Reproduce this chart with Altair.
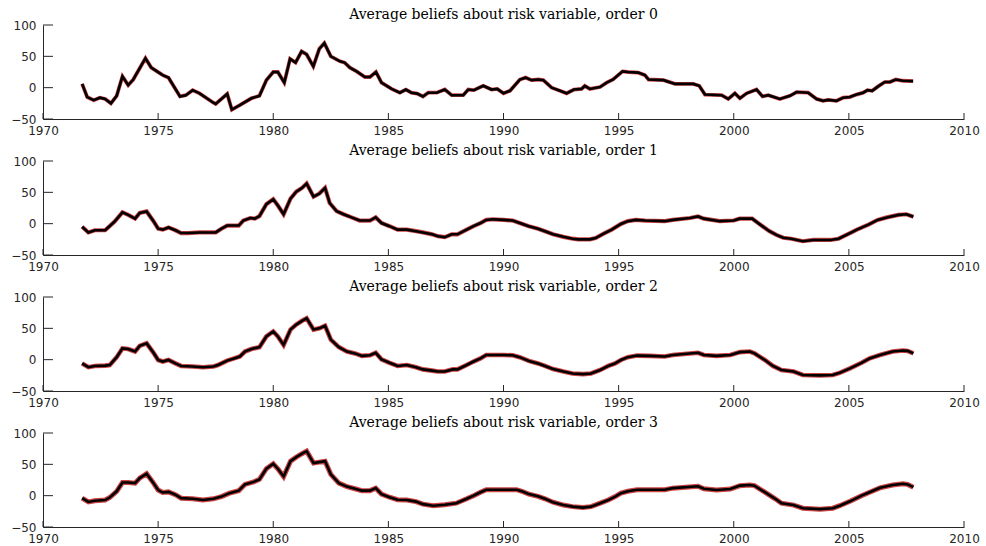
import altair as alt
import pandas as pd

# ---------------- data ----------------
t0 = [1971.7, 1971.92, 1972.2, 1972.47, 1972.7, 1972.95, 1973.2, 1973.45, 1973.7, 1973.92,
      1974.45, 1974.7, 1974.95, 1975.2, 1975.45, 1975.95, 1976.2, 1976.5, 1976.8, 1977.4,
      1977.5, 1978.0, 1978.2, 1978.55, 1979.05, 1979.4, 1979.7, 1980.0, 1980.2, 1980.48,
      1980.73, 1980.97, 1981.23, 1981.45, 1981.74, 1982.0, 1982.22, 1982.5, 1982.9, 1983.1,
      1983.33, 1983.62, 1983.98, 1984.2, 1984.46, 1984.7, 1985.14, 1985.5, 1985.76, 1986.0,
      1986.25, 1986.5, 1986.73, 1987.1, 1987.45, 1987.75, 1988.25, 1988.47, 1988.71, 1989.12,
      1989.48, 1989.73, 1990.0, 1990.28, 1990.71, 1990.96, 1991.22, 1991.51, 1991.73, 1992.09,
      1992.45, 1992.74, 1993.06, 1993.39, 1993.53, 1993.75, 1994.19, 1994.48, 1994.76, 1995.17,
      1995.4, 1995.85, 1996.14, 1996.3, 1996.95, 1997.45, 1998.24, 1998.5, 1998.75, 1999.47,
      1999.76, 2000.05, 2000.27, 2000.56, 2000.99, 2001.25, 2001.5, 2002.0, 2002.44, 2002.73,
      2003.23, 2003.6, 2003.88, 2004.1, 2004.46, 2004.75, 2005.04, 2005.33, 2005.62, 2005.81,
      2006.01, 2006.27, 2006.56, 2006.78, 2007.04, 2007.35, 2007.79]
v0 = [6, -15, -20, -16, -18, -25, -13, 18, 4, 13,
      47, 32, 26, 20, 16, -14, -12, -4, -9, -24,
      -26, -10, -35, -28, -17, -13, 12, 25, 25, 8,
      46, 40, 58, 53, 34, 62, 71, 50, 42, 40,
      32, 26, 17, 17, 25, 8, -2, -8, -3, -8,
      -9.5, -14, -8, -8, -3, -12, -12, -3, -4, 3,
      -3, -2, -9, -5, 13, 16, 12, 13, 12, 0,
      -5, -9, -3, -2, 3, -2, 1, 8, 13, 26,
      25, 24, 20, 13, 12, 6, 6, 3, -11, -12,
      -18, -9, -17, -9, -3, -14, -12, -18, -13, -7,
      -8, -18, -21, -19.5, -21, -16, -15, -11, -8, -4,
      -5, 2, 9, 9, 13, 11, 10.5]

t1 = [1971.7, 1971.97, 1972.25, 1972.7, 1973.1, 1973.45, 1973.7, 1974.0, 1974.2, 1974.5,
      1974.8, 1975.0, 1975.2, 1975.45, 1975.75, 1976.0, 1976.3, 1976.8, 1977.5, 1977.75,
      1978.0, 1978.5, 1978.7, 1979.0, 1979.2, 1979.4, 1979.7, 1980.0, 1980.2, 1980.45,
      1980.75, 1981.0, 1981.25, 1981.45, 1981.75, 1982.0, 1982.25, 1982.45, 1982.75, 1983.05,
      1983.4, 1983.75, 1984.2, 1984.45, 1984.7, 1985.05, 1985.4, 1985.8, 1986.2, 1986.5,
      1986.9, 1987.15, 1987.45, 1987.75, 1988.0, 1988.4, 1988.7, 1989.0, 1989.25, 1989.55,
      1990.0, 1990.4, 1990.7, 1991.1, 1991.5, 1991.8, 1992.15, 1992.6, 1993.0, 1993.25,
      1993.75, 1994.0, 1994.35, 1994.7, 1995.1, 1995.4, 1995.75, 1996.15, 1997.0, 1997.35,
      1998.1, 1998.45, 1998.7, 1999.4, 2000.0, 2000.25, 2000.8, 2001.15, 2001.55, 2001.85,
      2002.15, 2002.5, 2003.0, 2003.45, 2004.2, 2004.55, 2005.05, 2005.35, 2005.85, 2006.25,
      2006.65, 2007.15, 2007.5, 2007.8]
v1 = [-5, -14, -10.5, -10.5, 3, 18, 14, 8, 17, 19.5,
      4, -8, -9.5, -6, -10.5, -15, -15, -14, -14, -8,
      -3, -3, 5, 9, 8, 12, 31, 39, 29, 15,
      40, 51, 57, 64, 43, 48, 57, 33, 20, 15,
      10, 5, 5, 10, 1, -4, -9.5, -9.5, -12, -14,
      -17, -20, -21.5, -17, -17, -9.5, -4, 1, 6, 7,
      6, 5, 1, -4, -8, -12, -17, -21, -24, -25,
      -25, -23, -16, -9.5, -0.5, 4, 6, 5, 4, 6,
      9, 11.5, 8, 4, 5, 8, 8, -1.5, -12, -18,
      -22.5, -24, -28, -26, -26, -24, -15, -9.5, -1.5, 6,
      10, 14, 15, 11]

t2 = [1971.7, 1971.97, 1972.25, 1972.7, 1972.9, 1973.2, 1973.45, 1973.7, 1974.0, 1974.2,
      1974.5, 1974.8, 1975.0, 1975.2, 1975.45, 1975.75, 1976.0, 1976.5, 1976.95, 1977.4,
      1977.6, 1978.0, 1978.3, 1978.55, 1978.77, 1979.05, 1979.4, 1979.7, 1980.0, 1980.2,
      1980.45, 1980.75, 1981.0, 1981.25, 1981.45, 1981.75, 1982.0, 1982.25, 1982.5, 1982.85,
      1983.2, 1983.55, 1983.85, 1984.2, 1984.45, 1984.7, 1985.05, 1985.4, 1985.8, 1986.2,
      1986.5, 1986.9, 1987.15, 1987.45, 1987.8, 1988.0, 1988.4, 1988.7, 1989.0, 1989.25,
      1989.55, 1990.0, 1990.4, 1990.7, 1991.1, 1991.5, 1991.8, 1992.15, 1992.6, 1993.0,
      1993.45, 1993.8, 1994.2, 1994.55, 1994.85, 1995.1, 1995.4, 1995.8, 1996.35, 1997.0,
      1997.35, 1998.45, 1998.7, 1999.25, 1999.85, 2000.27, 2000.7, 2000.9, 2001.35, 2001.7,
      2002.07, 2002.6, 2003.0, 2003.75, 2004.3, 2004.6, 2005.05, 2005.55, 2005.9, 2006.35,
      2006.9, 2007.35, 2007.55, 2007.8]
v2 = [-6, -12, -10, -9.5, -8.5, 4, 18, 17, 13, 22,
      26, 11, -0.5, -3, -0.5, -6, -10, -11, -12, -11,
      -8.5, -1.5, 2, 5, 13, 17, 20, 37, 45, 37,
      23.5, 48, 56, 62, 66, 48, 50, 54, 32, 20,
      13, 10, 6, 7, 11, 0.5, -5, -10, -8.5, -12,
      -15.5, -17.5, -19, -19, -15.5, -15.5, -8.5, -3, 2, 7.5,
      7.5, 7.5, 7, 4, -2, -6, -10, -15, -19, -22,
      -23, -22, -16.5, -10, -6, -0.5, 4, 6.5, 6, 5,
      7.5, 11, 7.5, 6, 7.5, 12, 13, 10, -0.5, -10,
      -16.5, -19, -24.5, -25, -24.5, -21, -14, -5, 2, 7.5,
      13, 14.5, 14, 10]

t3 = [1971.7, 1971.97, 1972.25, 1972.7, 1972.9, 1973.2, 1973.45, 1973.7, 1974.0, 1974.2,
      1974.5, 1974.8, 1975.0, 1975.2, 1975.45, 1975.75, 1976.0, 1976.5, 1976.95, 1977.4,
      1977.75, 1978.1, 1978.5, 1978.77, 1979.15, 1979.4, 1979.7, 1980.0, 1980.2, 1980.45,
      1980.75, 1981.0, 1981.25, 1981.45, 1981.75, 1982.0, 1982.25, 1982.5, 1982.85, 1983.2,
      1983.55, 1983.85, 1984.2, 1984.45, 1984.7, 1985.05, 1985.4, 1985.8, 1986.2, 1986.5,
      1986.95, 1987.45, 1987.95, 1988.4, 1988.7, 1989.0, 1989.25, 1990.0, 1990.57, 1990.8,
      1991.1, 1991.5, 1991.8, 1992.15, 1992.6, 1993.0, 1993.45, 1993.8, 1994.2, 1994.55,
      1994.85, 1995.1, 1995.4, 1995.8, 1996.35, 1997.0, 1997.35, 1998.45, 1998.7, 1999.25,
      1999.85, 2000.27, 2000.7, 2000.9, 2001.35, 2001.8, 2002.07, 2002.6, 2003.0, 2003.75,
      2004.3, 2004.6, 2005.05, 2005.55, 2005.9, 2006.35, 2006.9, 2007.35, 2007.55, 2007.8]
v3 = [-4, -10, -8, -7, -3, 7, 21, 21, 20, 28,
      35, 20, 9, 5, 6, 1.5, -4, -5, -7, -5,
      -1.5, 4, 8, 18, 22, 26, 43, 51, 43, 30.5,
      55, 61.5, 67, 71, 52, 53.5, 55, 34, 20, 14.5,
      11, 8, 8, 12, 2.5, -2.5, -6.5, -7, -9.5, -13.5,
      -16, -14.5, -12, -5, 0, 5.5, 9.5, 9.5, 9.5, 7,
      2.5, -1, -5, -10.5, -15, -17.5, -19, -17.5, -12, -7,
      -1.5, 4, 7, 9.5, 9.5, 9.5, 12, 15, 11, 9,
      10.5, 16, 17, 16, 5.5, -5, -12, -15, -20, -21.5,
      -20, -16, -9, 0, 5.5, 12.5, 17, 19, 18, 13.5]

x_ticks = [1970, 1975, 1980, 1985, 1990, 1995, 2000, 2005, 2010]
y_ticks = [-50, 0, 50, 100]
titles = ["Average beliefs about risk variable, order 0",
          "Average beliefs about risk variable, order 1",
          "Average beliefs about risk variable, order 2",
          "Average beliefs about risk variable, order 3"]
series = [(t0, v0), (t1, v1), (t2, v2), (t3, v3)]

# ---------------- chart ----------------
W, H = 921, 94
AX = "#262626"
LABEL_FONT = "DejaVu Sans"
TITLE_FONT = "DejaVu Serif"
band_width = [3.8, 4.2, 4.6, 5.0]

xscale = alt.Scale(domain=[1970, 2010], nice=False, zero=False)
yscale = alt.Scale(domain=[-50, 100], nice=False, zero=False)

x_axis = alt.Axis(values=x_ticks, format="d", title=None, grid=False,
                  ticks=False, tickSize=0, labelPadding=6, labelFlush=False,
                  labelOverlap=False,
                  labelFont=LABEL_FONT, labelFontSize=12, labelColor=AX,
                  domainColor=AX, domainWidth=1)
y_axis = alt.Axis(values=y_ticks, title=None, grid=False,
                  ticks=False, tickSize=0, labelPadding=7,
                  labelOverlap=False, labelFlush=False,
                  labelFont=LABEL_FONT, labelFontSize=12, labelColor=AX,
                  domainColor=AX, domainWidth=1)

xticks_df = pd.DataFrame({"year": x_ticks})
yticks_df = pd.DataFrame({"value": y_ticks})

panels = []
for i, ((ts, vs), title) in enumerate(zip(series, titles)):
    df = pd.DataFrame({"year": ts, "value": vs})
    xenc = alt.X("year:Q", scale=xscale, axis=x_axis)
    yenc = alt.Y("value:Q", scale=yscale, axis=y_axis)
    base = alt.Chart(df)
    red = base.mark_line(color="#cc4444", strokeWidth=band_width[i]).encode(x=xenc, y=yenc)
    black = base.mark_line(color="black", strokeWidth=2.6).encode(x=xenc, y=yenc)
    xt = alt.Chart(xticks_df).mark_rule(color=AX, strokeWidth=1).encode(
        x=xenc, y=alt.value(H - 6), y2=alt.value(H))
    yt = alt.Chart(yticks_df).mark_rule(color=AX, strokeWidth=1).encode(
        y=yenc, x=alt.value(0), x2=alt.value(10))
    layer = alt.layer(red, black, xt, yt).properties(
        width=W, height=H,
        title=alt.Title(title, font=TITLE_FONT, fontSize=14, fontWeight="normal",
                        color="black", offset=-3, anchor="middle"))
    panels.append(layer)

chart = alt.vconcat(*panels, spacing=8).properties(
    padding={"left": 10, "top": 8, "right": 2, "bottom": 2}
).configure(background="white", view=alt.ViewConfig(strokeWidth=0))

chart.save("out.html", embed_options={"renderer": "svg", "actions": False})
